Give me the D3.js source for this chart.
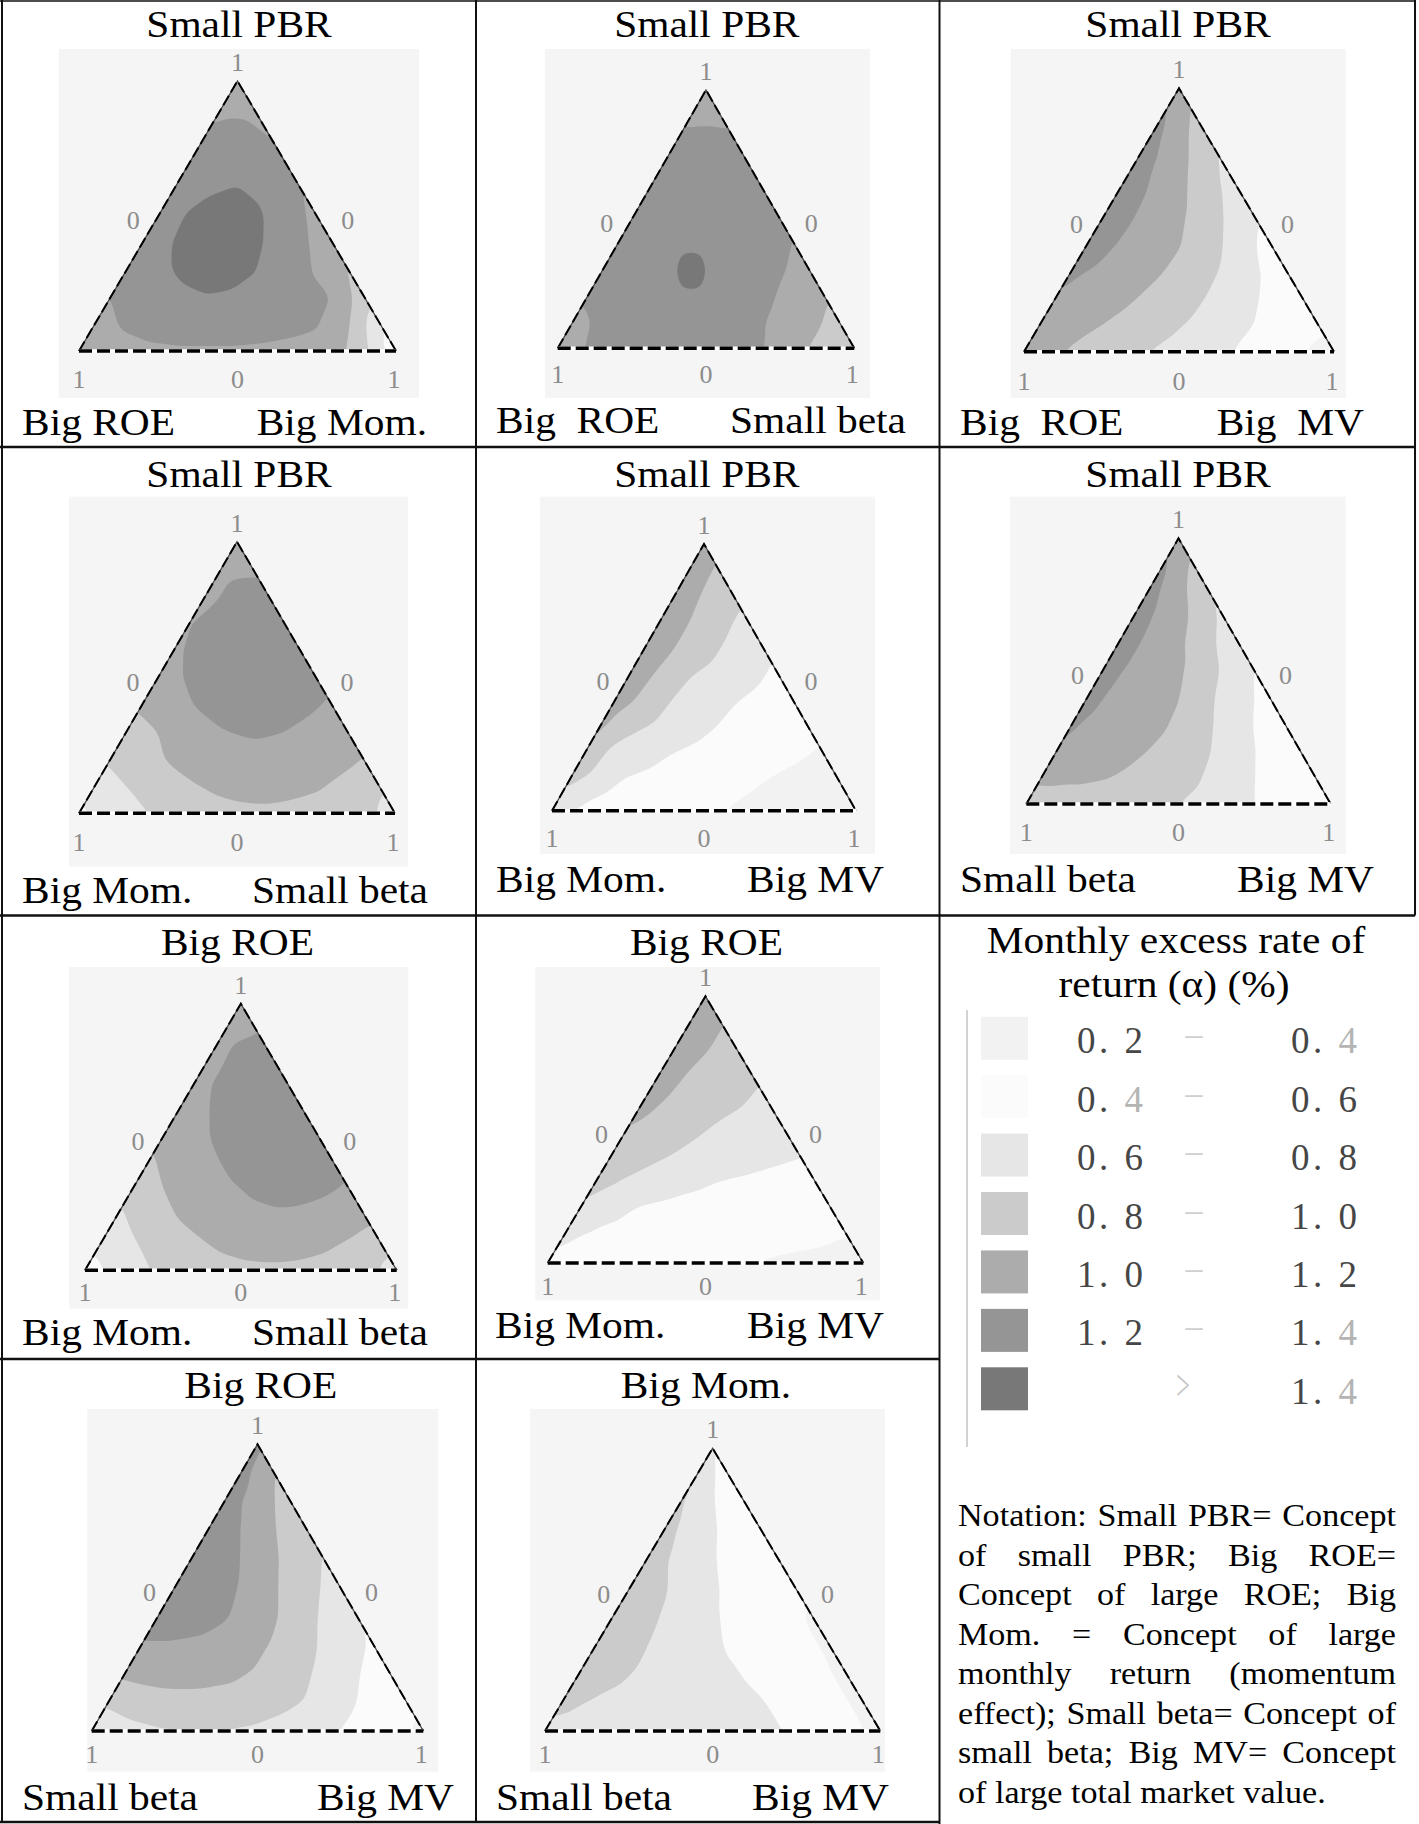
<!DOCTYPE html>
<html><head><meta charset="utf-8">
<script src="https://cdn.jsdelivr.net/npm/d3@7"></script>
<style>body{margin:0;background:#fff}</style>
</head><body>
<svg id="c" width="1419" height="1824"></svg>
<script>
// ---------------- DATA ----------------
const panelTitles = ["Small PBR","Small PBR","Small PBR","Small PBR","Small PBR","Small PBR","Big ROE","Big ROE","Big ROE","Big Mom."];
const leftVertexLabels = ["Big ROE","Big  ROE","Big  ROE","Big Mom.","Big Mom.","Small beta","Big Mom.","Big Mom.","Small beta","Small beta"];
const rightVertexLabels = ["Big Mom.","Small beta","Big  MV","Small beta","Big MV","Big MV","Small beta","Big MV","Big MV","Big MV"];
const cornerTick = "1";
const middleTick = "0";

// alpha (%) read on a ternary lattice, step 0.1; row k from apex (k=0) to base (k=10), left -> right
const alphaP1 = [
 [1.10],[1.16,1.15],[1.22,1.27,1.19],[1.25,1.32,1.30,1.20],[1.25,1.36,1.41,1.33,1.20],
 [1.27,1.43,1.52,1.45,1.30,1.15],[1.27,1.41,1.55,1.53,1.37,1.24,1.08],
 [1.25,1.35,1.47,1.50,1.41,1.30,1.18,0.98],[1.20,1.28,1.33,1.39,1.36,1.32,1.27,1.20,0.88],
 [1.15,1.22,1.26,1.28,1.28,1.27,1.25,1.22,1.02,0.62],
 [1.10,1.15,1.17,1.18,1.18,1.18,1.17,1.15,1.10,0.85,0.45]];
const alphaP2 = [
 [1.08],[1.16,1.16],[1.24,1.26,1.23],[1.26,1.29,1.29,1.25],[1.27,1.31,1.32,1.30,1.25],
 [1.28,1.33,1.35,1.33,1.29,1.23],[1.28,1.33,1.37,1.37,1.33,1.27,1.19],
 [1.27,1.32,1.33,1.47,1.33,1.29,1.22,1.12],[1.22,1.29,1.33,1.37,1.37,1.31,1.24,1.12,1.02],
 [1.15,1.23,1.29,1.32,1.33,1.30,1.25,1.15,1.06,0.92],
 [1.10,1.21,1.24,1.28,1.30,1.28,1.25,1.20,1.05,0.93,0.85]];
const alphaP3 = [
 [1.10],[1.23,0.96],[1.28,1.08,0.82],[1.30,1.15,0.96,0.76],[1.33,1.19,1.05,0.86,0.71],
 [1.33,1.20,1.09,0.96,0.79,0.61],[1.30,1.19,1.10,1.01,0.87,0.70,0.50],
 [1.23,1.16,1.08,1.00,0.89,0.77,0.62,0.48],[1.19,1.12,1.05,0.97,0.89,0.78,0.67,0.55,0.46],
 [1.12,1.06,1.00,0.93,0.85,0.77,0.69,0.59,0.50,0.42],
 [1.08,1.02,0.95,0.88,0.80,0.74,0.68,0.57,0.48,0.40,0.36]];
const alphaP4 = [
 [1.12],[1.16,1.18],[1.15,1.25,1.23],[1.19,1.28,1.33,1.27],[1.17,1.27,1.34,1.35,1.28],
 [1.13,1.22,1.30,1.35,1.32,1.25],[1.04,1.14,1.24,1.30,1.30,1.25,1.18],
 [0.90,1.00,1.10,1.19,1.22,1.20,1.14,1.06],[0.82,0.93,1.03,1.10,1.14,1.15,1.12,1.07,1.00],
 [0.72,0.80,0.90,0.98,1.04,1.06,1.05,1.02,0.95,0.82],
 [0.55,0.68,0.78,0.86,0.92,0.96,0.97,0.95,0.92,0.85,0.72]];
const alphaP5 = [
 [1.10],[1.10,0.97],[1.12,0.98,0.86],[1.12,1.00,0.86,0.72],[1.12,1.00,0.86,0.74,0.64],
 [1.10,0.97,0.80,0.73,0.65,0.55],[1.08,0.95,0.77,0.70,0.60,0.53,0.48],
 [1.03,0.83,0.74,0.67,0.58,0.52,0.47,0.43],[0.99,0.70,0.66,0.58,0.52,0.47,0.44,0.41,0.38],
 [0.83,0.66,0.57,0.52,0.47,0.44,0.41,0.38,0.36,0.35],
 [0.65,0.56,0.51,0.47,0.44,0.42,0.39,0.37,0.36,0.36,0.37]];
const alphaP6 = [
 [1.15],[1.24,0.95],[1.28,1.07,0.81],[1.30,1.14,0.97,0.75],[1.30,1.16,1.04,0.84,0.67],
 [1.28,1.16,1.06,0.97,0.77,0.59],[1.26,1.15,1.08,1.01,0.83,0.67,0.53],
 [1.22,1.14,1.08,1.02,0.91,0.74,0.59,0.50],[1.19,1.13,1.07,1.00,0.93,0.81,0.67,0.54,0.48],
 [1.10,1.06,1.02,0.96,0.90,0.83,0.72,0.60,0.52,0.45],
 [0.75,0.82,0.86,0.86,0.84,0.80,0.74,0.65,0.55,0.47,0.42]];
const alphaP7 = [
 [1.12],[1.15,1.19],[1.14,1.25,1.27],[1.15,1.24,1.30,1.30],[1.12,1.20,1.30,1.34,1.32],
 [1.04,1.14,1.26,1.33,1.35,1.30],[0.97,1.07,1.16,1.27,1.31,1.30,1.24],
 [0.86,1.00,1.08,1.16,1.23,1.26,1.23,1.18],[0.76,0.89,1.01,1.08,1.14,1.17,1.16,1.12,1.05],
 [0.66,0.78,0.88,0.97,1.04,1.07,1.07,1.04,0.98,0.88],
 [0.50,0.66,0.79,0.87,0.92,0.96,0.97,0.96,0.93,0.86,0.70]];
const alphaP8 = [
 [1.12],[1.13,1.01],[1.12,1.01,0.92],[1.10,0.98,0.90,0.83],[1.06,0.96,0.88,0.82,0.75],
 [1.00,0.92,0.84,0.77,0.72,0.66],[0.90,0.85,0.79,0.73,0.69,0.65,0.61],
 [0.86,0.78,0.72,0.65,0.59,0.56,0.52,0.50],[0.77,0.66,0.57,0.53,0.50,0.48,0.46,0.45,0.44],
 [0.63,0.56,0.52,0.50,0.48,0.46,0.45,0.43,0.42,0.40],
 [0.57,0.52,0.49,0.47,0.45,0.44,0.42,0.39,0.38,0.37,0.37]];
const alphaP9 = [
 [1.25],[1.28,1.00],[1.30,1.11,0.90],[1.33,1.20,1.01,0.85],[1.35,1.28,1.11,0.94,0.79],
 [1.35,1.29,1.19,1.02,0.86,0.71],[1.32,1.28,1.22,1.10,0.94,0.77,0.61],
 [1.18,1.18,1.16,1.09,0.98,0.84,0.71,0.57],[1.04,1.08,1.08,1.05,0.98,0.87,0.76,0.61,0.50],
 [0.83,0.90,0.93,0.93,0.91,0.86,0.79,0.66,0.54,0.43],
 [0.65,0.74,0.78,0.79,0.79,0.77,0.72,0.64,0.55,0.45,0.37]];
const alphaP10 = [
 [0.62],[0.81,0.45],[0.83,0.61,0.47],[0.86,0.71,0.54,0.46],[0.88,0.76,0.61,0.53,0.45],
 [0.90,0.82,0.70,0.56,0.50,0.43],[0.90,0.84,0.74,0.62,0.53,0.46,0.38],
 [0.90,0.85,0.76,0.69,0.58,0.51,0.44,0.38],[0.92,0.84,0.77,0.72,0.66,0.59,0.50,0.44,0.37],
 [0.84,0.78,0.74,0.71,0.68,0.65,0.61,0.52,0.44,0.37],
 [0.76,0.73,0.71,0.69,0.67,0.66,0.64,0.61,0.53,0.44,0.36]];
const alphaGrids = [alphaP1,alphaP2,alphaP3,alphaP4,alphaP5,alphaP6,alphaP7,alphaP8,alphaP9,alphaP10];

const thresholds = [0.2,0.4,0.6,0.8,1.0,1.2,1.4];
const legendTitle = ["Monthly excess rate of","return (\u03b1) (%)"];
const legendLower = ["0. 2","0. 4","0. 6","0. 8","1. 0","1. 2",""];
const legendUpper = ["0. 4","0. 6","0. 8","1. 0","1. 2","1. 4","1. 4"];
const legendJoin = ["\u2013","\u2013","\u2013","\u2013","\u2013","\u2013",">"];
const notationLines = [
 "Notation: Small PBR= Concept",
 "of small PBR; Big ROE=",
 "Concept of large ROE; Big",
 "Mom. = Concept of large",
 "monthly return (momentum",
 "effect); Small beta= Concept of",
 "small beta; Big MV= Concept",
 "of large total market value."];

// ---------------- STYLE / LAYOUT ----------------
const bandColors = ["#f2f2f2","#fbfbfb","#e6e6e6","#cbcbcb","#acacac","#959595","#787878"];
const colorOf = d3.scaleThreshold().domain(thresholds.slice(1)).range(bandColors);
const serif = "'Liberation Serif','Times New Roman',serif";
const layout = [
 {top:81,   base:351,   left:79,    right:396,   sq:[58.7,49,419,398],      title:[239,37.3],    lab:[22,427,435],    tickDy:37},
 {top:90,   base:348.3, left:557.7, right:854.3, sq:[545,49,870,398],       title:[706.8,37.3],  lab:[496,906,433],   tickDy:35},
 {top:88.3, base:351.7, left:1024,  right:1334,  sq:[1010.7,49,1345.7,398], title:[1178,37.3],   lab:[960,1364,435],  tickDy:38},
 {top:541.7,base:813.3, left:79,    right:395,   sq:[69,496.7,408,866.7],   title:[239,486.7],   lab:[22,428,903.3],  tickDy:38},
 {top:544,  base:810.7, left:552,   right:856,   sq:[540,496.7,875,854],    title:[706.8,486.7], lab:[496,884,891.7], tickDy:36},
 {top:538.3,base:804,   left:1026.3,right:1330.7,sq:[1010,496.7,1345.7,854],title:[1178,486.7],  lab:[960,1374,891.7],tickDy:37},
 {top:1003.7,base:1270.3,left:85,   right:396.7, sq:[69,967,408.3,1308.7],  title:[237.5,955.3], lab:[22,428,1345.3], tickDy:31},
 {top:996.3,base:1263,  left:547.7, right:863.3, sq:[535.3,967,880,1300.3], title:[706.5,955.3], lab:[495,884,1338],  tickDy:32},
 {top:1444.3,base:1731, left:91.7,  right:423.3, sq:[87.3,1409,438.3,1771.7],title:[260.8,1397.7],lab:[22,454,1810],  tickDy:32},
 {top:1448.3,base:1731, left:545,   right:880.3, sq:[530,1409,885,1771.7],  title:[706,1397.7],  lab:[496,889,1810],  tickDy:32}
];

const svg = d3.select("#c");
svg.append("rect").attr("width",1419).attr("height",1824).attr("fill","#fff");

function stext(parent, x, y, str, o) {
  const t = parent.append("text")
    .attr("transform", `translate(${x},${y}) scale(${o.sx||1},1)`)
    .attr("text-anchor", o.anchor || "start")
    .attr("xml:space", "preserve")
    .style("font-family", o.family || serif)
    .style("font-size", o.size + "px")
    .attr("fill", o.fill || "#000")
    .text(str);
  if (o.ls) t.style("letter-spacing", o.ls + "px");
  return t;
}

function blurGrid(data, w, h, r) {
  if (typeof d3.blur2 === "function") { d3.blur2({data, width:w, height:h}, r); return; }
  const tmp = new Float64Array(Math.max(w,h));
  const line = (start, stride, n) => {
    for (let i=0;i<n;i++) tmp[i]=data[start+i*stride];
    for (let i=0;i<n;i++){ let s=0; for(let k=-r;k<=r;k++){ s+=tmp[Math.min(n-1,Math.max(0,i+k))]; } data[start+i*stride]=s/(2*r+1); }
  };
  for (let p=0;p<3;p++){ for(let y=0;y<h;y++) line(y*w,1,w); for(let x=0;x<w;x++) line(x,w,h); }
}

// ---------------- PANELS ----------------
alphaGrids.forEach((V, p) => {
  const L = layout[p];
  const n = V.length - 1;
  const g = svg.append("g");
  g.append("rect").attr("x",L.sq[0]).attr("y",L.sq[1])
    .attr("width",L.sq[2]-L.sq[0]).attr("height",L.sq[3]-L.sq[1]).attr("fill","#f5f5f5");

  const ys = d3.scaleLinear().domain([0,1]).range([L.base, L.top]);       // share of top component
  const xs = d3.scaleLinear().domain([0,1]).range([L.left, L.right]);     // c + a/2
  const pos = (a, c) => [xs(c + a/2), ys(a)];
  const A = pos(1,0), B = pos(0,0), C = pos(0,1);

  function valueAt(a, c) {
    let b = 1 - a - c;
    a = Math.max(0,a); b = Math.max(0,b); c = Math.max(0,c);
    const s = a + b + c; a /= s; c /= s;
    const k = n*(1-a), j = n*c;
    const K = Math.min(Math.floor(k), n-1), fk = k - K;
    const J = Math.min(Math.floor(j), K);
    let fj = j - J;
    if (J === K) fj = Math.min(fj, fk);
    if (fj <= fk) return V[K][J] + fk*(V[K+1][J]-V[K][J]) + fj*(V[K+1][J+1]-V[K+1][J]);
    return V[K][J] + fj*(V[K][J+1]-V[K][J]) + fk*(V[K+1][J+1]-V[K][J+1]);
  }

  const s = 1.5, pad = 8;
  const ox = L.left - pad*s, oy = L.top - pad*s;
  const nx = Math.ceil((L.right-L.left)/s) + 2*pad, ny = Math.ceil((L.base-L.top)/s) + 2*pad;
  const vals = new Float64Array(nx*ny);
  for (let jy=0; jy<ny; jy++) for (let ix=0; ix<nx; ix++) {
    const px = ox + (ix+0.5)*s, py = oy + (jy+0.5)*s;
    const a = ys.invert(py);
    const c = xs.invert(px) - a/2;
    vals[jy*nx+ix] = valueAt(a, c);
  }
  blurGrid(vals, nx, ny, 3);
  const contours = d3.contours().size([nx, ny]).thresholds(thresholds)(vals);
  const path = d3.geoPath(d3.geoIdentity().scale(s).translate([ox, oy]));

  const clipId = "tri" + p;
  svg.append("clipPath").attr("id", clipId).append("path").attr("d", `M${A}L${B}L${C}Z`);
  g.append("g").attr("clip-path", `url(#${clipId})`)
    .selectAll("path").data(contours).join("path")
    .attr("d", path).attr("fill", d => colorOf(d.value)).attr("stroke","none");

  // triangle edges
  g.append("path").attr("d", `M${B}L${A}L${C}`).attr("fill","none").attr("stroke","#444").attr("stroke-width",1.3);
  g.append("path").attr("d", `M${B}L${A}L${C}`).attr("fill","none").attr("stroke","#000").attr("stroke-width",2)
    .attr("stroke-dasharray","11,4");
  g.append("line").attr("x1",B[0]).attr("y1",B[1]).attr("x2",C[0]).attr("y2",C[1])
    .attr("stroke","#fff").attr("stroke-width",3.5);
  g.append("line").attr("x1",B[0]).attr("y1",B[1]).attr("x2",C[0]).attr("y2",C[1])
    .attr("stroke","#000").attr("stroke-width",3.5).attr("stroke-dasharray","13,5");

  // tick labels
  const tk = {family:serif, size:26, fill:"#8c8c8c", anchor:"middle"};
  stext(g, A[0], A[1]-10, cornerTick, tk);
  stext(g, (A[0]+B[0])/2 - 25, (A[1]+B[1])/2 + 13, middleTick, tk);
  stext(g, (A[0]+C[0])/2 + 31, (A[1]+C[1])/2 + 13, middleTick, tk);
  stext(g, B[0], L.base + L.tickDy, cornerTick, tk);
  stext(g, (B[0]+C[0])/2, L.base + L.tickDy, middleTick, tk);
  stext(g, C[0]-2, L.base + L.tickDy, cornerTick, tk);

  // titles and vertex names
  stext(g, L.title[0], L.title[1], panelTitles[p], {size:37, sx:1.12, anchor:"middle"});
  stext(g, L.lab[0], L.lab[2], leftVertexLabels[p], {size:37, sx:1.12, anchor:"start"});
  stext(g, L.lab[1], L.lab[2], rightVertexLabels[p], {size:37, sx:1.12, anchor:"end"});
});

// ---------------- GRID LINES ----------------
const gl = svg.append("g").attr("stroke","#111");
[[2,0,2,1822],[476,0,476,1822],[939.5,0,939.5,1824],[1415,0,1415,915.5]].forEach(d =>
  gl.append("line").attr("x1",d[0]).attr("y1",d[1]).attr("x2",d[2]).attr("y2",d[3]).attr("stroke-width",2));
[[0,1,1415,1],[0,447,1415,447],[0,915.5,1415,915.5],[0,1359,939.5,1359],[0,1822,939.5,1822]].forEach(d =>
  gl.append("line").attr("x1",d[0]).attr("y1",d[1]).attr("x2",d[2]).attr("y2",d[3]).attr("stroke-width",d[1]<5?1.5:2.5));

// ---------------- LEGEND ----------------
const lg = svg.append("g");
stext(lg, 1176, 953.3, legendTitle[0], {size:37, sx:1.12, anchor:"middle"});
stext(lg, 1174, 997.3, legendTitle[1], {size:37, sx:1.12, anchor:"middle"});
lg.append("line").attr("x1",967).attr("y1",1010).attr("x2",967).attr("y2",1447).attr("stroke","#d2d2d2").attr("stroke-width",2);
const ly = d3.scaleLinear().domain([0, bandColors.length-1]).range([1016.7, 1367.3]);
function legendNumber(x, y, str) {
  const t = lg.append("text").attr("x",x).attr("y",y).attr("xml:space","preserve")
    .style("font-family",serif).style("font-size","37px").style("letter-spacing","3.5px");
  for (const ch of str) t.append("tspan").attr("fill", ch === "4" ? "#b4b4b4" : "#464646").text(ch);
}
bandColors.forEach((col, i) => {
  const y0 = ly(i);
  lg.append("rect").attr("x",981).attr("y",y0).attr("width",47).attr("height",43).attr("fill",col);
  const base = y0 + 36.5;
  if (legendLower[i]) legendNumber(1077, base, legendLower[i]);
  legendNumber(1291, base, legendUpper[i]);
  if (legendJoin[i] === ">") {
    lg.append("text").attr("transform",`translate(1183,${base-4}) scale(0.8,1.45)`).attr("text-anchor","middle")
      .style("font-family",serif).style("font-size","30px").attr("fill","#c4c4c4").text(legendJoin[i]);
  } else {
    stext(lg, 1194, base-8, legendJoin[i], {size:34, anchor:"middle", fill:"#cfcfcf"});
  }
});

// ---------------- NOTATION ----------------
const ng = svg.append("g");
const nFont = 31, nSx = 1.1, nLeft = 958, nRight = 1396;
const nY = d3.scaleLinear().domain([0, notationLines.length-1]).range([1526, 1803]);
const meas = svg.append("text").style("font-family",serif).style("font-size",nFont+"px").attr("visibility","hidden");
const wWidth = w => { meas.text(w); return meas.node().getComputedTextLength()*nSx; };
notationLines.forEach((line, i) => {
  const words = line.split(" ");
  const widths = words.map(wWidth);
  const total = d3.sum(widths);
  const last = i === notationLines.length-1;
  const gap = last ? 0.25*nFont*nSx : (nRight - nLeft - total)/(words.length-1);
  let x = nLeft;
  words.forEach((w, k) => { stext(ng, x, nY(i), w, {size:nFont, sx:nSx}); x += widths[k] + gap; });
});
meas.remove();
</script>
</body></html>
